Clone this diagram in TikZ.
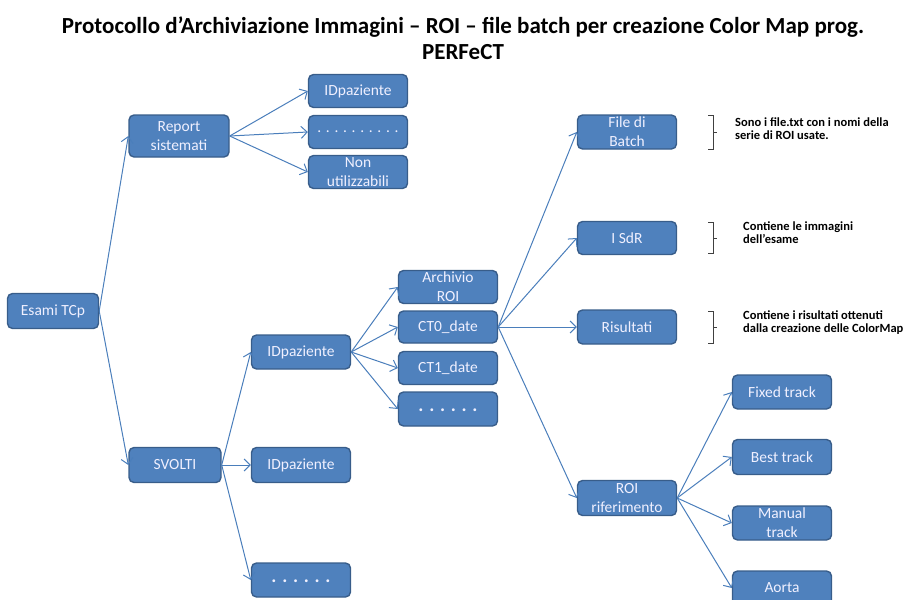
\documentclass[tikz,border=0pt]{standalone}
\usepackage{fontspec}
\setmainfont{Carlito}
\usetikzlibrary{arrows.meta}
\definecolor{boxc}{HTML}{4F81BD}
\definecolor{bordc}{HTML}{385D8A}
\definecolor{linec}{HTML}{4A7EBB}
\tikzset{
  box/.style={draw=bordc, line width=1.4pt, fill=boxc, rounded corners=5pt,
    minimum width=99pt, minimum height=34pt, inner sep=0pt, text=white!94!blue,
    font=\fontsize{15.5}{19}\selectfont, align=center},
  bigdots/.style={font=\bfseries\fontsize{19}{19}\selectfont},
  conn/.style={draw=linec, line width=1pt, -{Straight Barb[length=6pt,width=12pt]}},
  brk/.style={draw=black!75, line width=0.9pt},
  note/.style={anchor=west, align=left, font=\bfseries\fontsize{12.5}{13}\selectfont, inner sep=0pt}
}
\begin{document}
\begin{tikzpicture}[x=1pt,y=-1pt]
\useasboundingbox (0,0) rectangle (911,600);
\begin{scope}
\clip (0,0) rectangle (911,600);
% title
\node[font=\bfseries\fontsize{23}{26}\selectfont, align=center] (title) at (463,38) {Protocollo d’Archiviazione Immagini – ROI – file batch per creazione Color Map prog.\\PERFeCT};
% nodes
\node[box, minimum width=91pt, minimum height=35pt] (esami) at (53,311) {Esami TCp};
\node[box, minimum width=100pt, minimum height=42pt] (report) at (179,136) {Report\\sistemati};
\node[box, minimum height=33pt] (idp1) at (358,91) {IDpaziente};
\node[box, minimum height=33pt] (dots1) at (358,132) {. . . . . . . . . .};
\node[box, minimum height=33pt] (nonut) at (358,172) {Non\\utilizzabili};
\node[box, minimum width=92pt, minimum height=35pt] (svolti) at (175,465) {SVOLTI};
\node[box] (idp2) at (301,352) {IDpaziente};
\node[box, minimum height=35pt] (idp3) at (301,465) {IDpaziente};
\node[box, bigdots] (dots3) at (301,580) {\raisebox{-5pt}{. . . . . .}};
\node[box, minimum height=33pt] (arch) at (448,287) {Archivio\\ROI};
\node[box, minimum height=32pt] (ct0) at (448,327) {CT0\_date};
\node[box, minimum height=33pt] (ct1) at (448,368) {CT1\_date};
\node[box, bigdots] (dots2) at (448,409) {\raisebox{-5pt}{. . . . . .}};
\node[box] (batch) at (627,132) {File di\\Batch};
\node[box, minimum height=33pt] (isdr) at (627,238) {I SdR};
\node[box] (ris) at (627,327) {Risultati};
\node[box, minimum height=35pt] (roirif) at (627,498) {ROI\\riferimento};
\node[box] (fixed) at (782,392) {Fixed track};
\node[box, minimum height=35pt] (best) at (782,457) {Best track};
\node[box] (manual) at (782,523) {Manual\\track};
\node[box] (aorta) at (782,588) {Aorta};
% connectors
\draw[conn] (esami.east) -- (report.west);
\draw[conn] (esami.east) -- (svolti.west);
\draw[conn] (report.east) -- (idp1.west);
\draw[conn] (report.east) -- (dots1.west);
\draw[conn] (report.east) -- (nonut.west);
\draw[conn] (svolti.east) -- (idp2.west);
\draw[conn] (svolti.east) -- (idp3.west);
\draw[conn] (svolti.east) -- (dots3.west);
\draw[conn] (idp2.east) -- (arch.west);
\draw[conn] (idp2.east) -- (ct0.west);
\draw[conn] (idp2.east) -- (ct1.west);
\draw[conn] (idp2.east) -- (dots2.west);
\draw[conn] (ct0.east) -- (batch.west);
\draw[conn] (ct0.east) -- (isdr.west);
\draw[conn] (ct0.east) -- (ris.west);
\draw[conn] (ct0.east) -- (roirif.west);
\draw[conn] (roirif.east) -- (fixed.west);
\draw[conn] (roirif.east) -- (best.west);
\draw[conn] (roirif.east) -- (manual.west);
\draw[conn] (roirif.east) -- (aorta.west);
% brackets and notes
\draw[brk] (708,115) -- (713,115) -- (713,149) -- (708,149) (713,132) -- (717,132);
\draw[brk] (708,222) -- (713,222) -- (713,253) -- (708,253) (713,238) -- (717,238);
\draw[brk] (708,311) -- (713,311) -- (713,343) -- (708,343) (713,327) -- (717,327);
\node[note] (n1) at (735,129) {Sono i file.txt con i nomi della\\serie di ROI usate.};
\node[note] (n2) at (743,233) {Contiene le immagini\\dell’esame};
\node[note] (n3) at (743,323) {Contiene i risultati ottenuti\\dalla creazione delle ColorMap};
\end{scope}
\end{tikzpicture}
\end{document}
